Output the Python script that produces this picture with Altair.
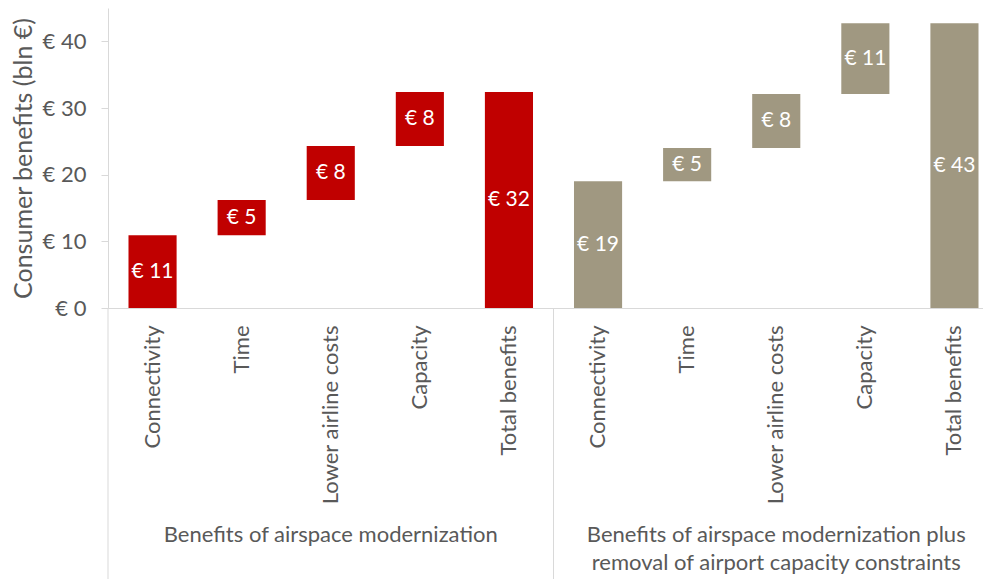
import altair as alt
import pandas as pd

# ---- data ----
groups = [
    "Benefits of airspace modernization",
    "Benefits of airspace modernization plus\nremoval of airport capacity constraints",
]
group_keys = ["A", "B"]
categories = ["Connectivity", "Time", "Lower airline costs", "Capacity"]
total_name = "Total benefits"
g1_values = [10.9, 5.3, 8.1, 8.1]
g2_values = [19.0, 5.0, 8.1, 10.6]
group_colors = ["#C00000", "#A09881"]
y_ticks = [0, 10, 20, 30, 40]

FONT = "Lato"
TEXT = "#595959"
LINE = "#D9D9D9"


def euro(v):
    return "€ " + str(int(v + 0.5))


rows = []
for gk, vals, col in zip(group_keys, [g1_values, g2_values], group_colors):
    cum = 0.0
    for cat, v in zip(categories, vals):
        rows.append(dict(key=f"{gk}|{cat}", start=cum, end=cum + v, label=euro(v), color=col))
        cum += v
    rows.append(dict(key=f"{gk}|{total_name}", start=0.0, end=cum, label=euro(cum), color=col))
df = pd.DataFrame(rows)
domain_keys = list(df["key"])

grp_df = pd.DataFrame({"key": [f"{gk}|{categories[2]}" for gk in group_keys], "name": groups})
sep_df = pd.DataFrame({"key": [f"{gk}|{categories[0]}" for gk in group_keys]})

P = 0.46
RANGE = 891
STEP = RANGE / len(domain_keys)
xscale = alt.Scale(domain=domain_keys, paddingInner=P, paddingOuter=P / 2, range=[0, RANGE])
yscale = alt.Scale(domain=[0, 45], nice=False)

xaxis = alt.Axis(
    labelAngle=270, labelAlign="right", labelBaseline="middle", labelPadding=17,
    ticks=False, domainColor=LINE, labelFontSize=22, labelColor=TEXT, labelFont=FONT,
    labelExpr="split(datum.label, '|')[1]", title=None, labelLimit=400,
)
yaxis = alt.Axis(
    values=y_ticks, labelExpr="'€ ' + datum.value", grid=False, domainColor=LINE,
    tickColor=LINE, tickSize=7, labelPadding=15, labelFontSize=22, labelColor=TEXT,
    labelFont=FONT, title="Consumer benefits (bln €)", titleFontSize=25,
    titleFontWeight="normal", titleColor=TEXT, titleFont=FONT, titleAngle=270,
    titleX=-85, titleY=150, titleAlign="center", titleBaseline="middle",
)

X = alt.X("key:N", scale=xscale, axis=xaxis, sort=domain_keys)

bars = alt.Chart(df).mark_bar().encode(
    x=X,
    y=alt.Y("start:Q", scale=yscale, axis=yaxis),
    y2="end:Q",
    color=alt.Color("color:N", scale=None),
)

values = alt.Chart(df).transform_calculate(mid="(datum.start + datum.end) / 2").mark_text(
    color="white", fontSize=21, font=FONT
).encode(
    x=X,
    y=alt.Y("mid:Q", scale=yscale, axis=yaxis),
    text="label:N",
)

group_labels = alt.Chart(grp_df).mark_text(
    baseline="top", align="center", fontSize=22, lineHeight=28, color=TEXT,
    font=FONT, lineBreak="\n",
).encode(
    x=X,
    y=alt.value(517),
    text="name:N",
)

seps = alt.Chart(sep_df).mark_rule(color=LINE, strokeWidth=1, xOffset=-(P / 2) * STEP).encode(
    x=alt.X("key:N", scale=xscale, axis=xaxis, sort=domain_keys, bandPosition=0),
    y=alt.value(300),
    y2=alt.value(580),
)

chart = alt.layer(bars, values, group_labels, seps).properties(
    width=875, height=300,
    autosize=alt.AutoSizeParams(type="none"),
    padding={"left": 100, "top": 0, "right": 0, "bottom": 271},
).configure_view(stroke=None)

chart.save("out.html", embed_options={"renderer": "svg", "actions": False})
